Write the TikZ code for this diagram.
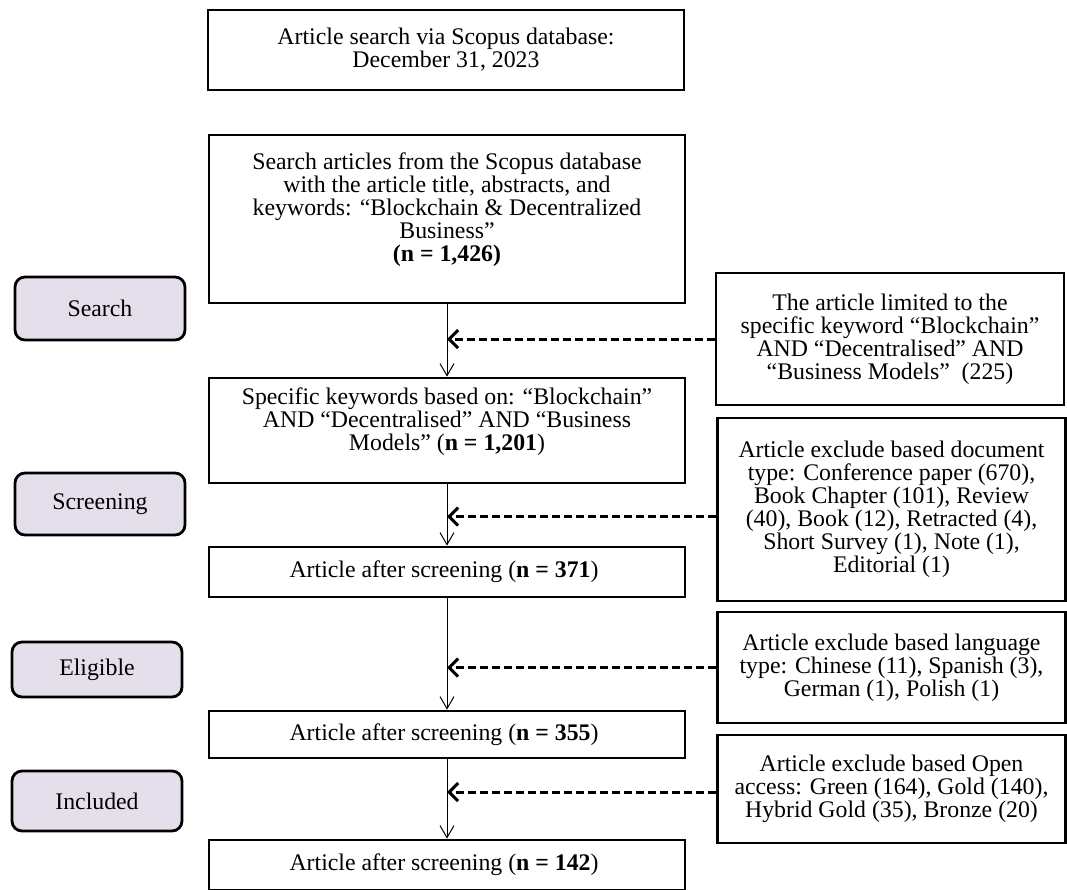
\documentclass[tikz,border=0pt]{standalone}
\usepackage{fontspec}
\setmainfont{Liberation Serif}
\usetikzlibrary{arrows.meta}
\definecolor{stagefill}{RGB}{229,223,236}

\begin{document}
\begin{tikzpicture}[
        x=0.5pt, y=-0.5pt,
        font=\fontsize{11.9}{11.5}\selectfont,
        box/.style={rectangle, draw, line width=1.4pt, align=center, inner sep=0pt},
        mainbox/.style={box, minimum width=238pt},
        note/.style={box, minimum width=174pt},
        stage/.style={box, rounded corners=5pt, fill=stagefill, minimum width=85pt},
        arrow/.style={line width=0.5pt, -{Straight Barb[length=6pt,width=7pt]}},
        feedback/.style={line width=1.5pt, dash pattern=on 4pt off 2pt, -{Straight Barb[length=4.5pt,width=9pt]}}
    ]
        \useasboundingbox (0,0) rectangle (1067,890);

        % stages on the left
        \node[stage, minimum height=31.5pt] (stSearch) at (100,308.5) {Search};
        \node[stage, minimum height=31pt] (stScreen) at (100,504) {Screening};
        \node[stage, minimum height=27.5pt] (stElig) at (97,669.5) {Eligible};
        \node[stage, minimum height=30pt] (stIncl) at (97,801) {Included};

        % main flow
        \node[mainbox, minimum height=40pt] (start) at (446,50) {
            Article search via Scopus database:\\
            December 31, 2023
        };
        \node[mainbox, minimum height=84pt] (found) at (447,219) {
            Search articles from the Scopus database\\
            with the article title, abstracts, and\\
            keywords: “Blockchain \& Decentralized\\
            Business”\\
            \textbf{(n = 1,426)}\\ \mbox{}
        };
        \node[mainbox, minimum height=52.5pt] (keyword) at (447,430.5) {
            Specific keywords based on: “Blockchain”\\
            AND “Decentralised” AND “Business\\
            Models” (\textbf{n = 1,201})\\ \mbox{}
        };
        \node[mainbox, minimum height=25pt] (screened) at (447,572) {
            Article after screening (\textbf{n = 371})
        };
        \node[mainbox, minimum height=23.5pt] (eligible) at (447,734.5) {
            Article after screening (\textbf{n = 355})
        };
        \node[mainbox, minimum height=25pt] (included) at (447,865) {
            Article after screening (\textbf{n = 142})
        };

        % exclusions on the right
        \node[note, minimum height=66pt] (limit) at (890,339) {
            The article limited to the\\
            specific keyword “Blockchain”\\
            AND “Decentralised” AND\\
            “Business Models”~ (225)
        };
        \node[note, minimum height=91.5pt] (doctype) at (891.5,509.5) {
            Article exclude based document\\
            type: Conference paper (670),\\
            Book Chapter (101), Review\\
            (40), Book (12), Retracted (4),\\
            Short Survey (1), Note (1),\\
            Editorial (1)
        };
        \node[note, minimum height=55.5pt] (lang) at (891.5,667.5) {
            Article exclude based language\\
            type: Chinese (11), Spanish (3),\\
            German (1), Polish (1)
        };
        \node[note, minimum height=54pt] (access) at (891.5,789) {
            Article exclude based Open\\
            access: Green (164), Gold (140),\\
            Hybrid Gold (35), Bronze (20)
        };

        \draw[arrow] (found) -- (keyword);
        \draw[arrow] (keyword) -- (screened);
        \draw[arrow] (screened) -- (eligible);
        \draw[arrow] (eligible) -- (included);

        \draw[feedback] (limit.west) -- (limit.west -| found.south);
        \draw[feedback] ([yshift=-3.5pt]doctype.west) -- ([yshift=-3.5pt]doctype.west -| keyword.south);
        \draw[feedback] (lang.west) -- (lang.west -| screened.south);
        \draw[feedback] ([yshift=-1.5pt]access.west) -- ([yshift=-1.5pt]access.west -| eligible.south);
    \end{tikzpicture}
\end{document}
